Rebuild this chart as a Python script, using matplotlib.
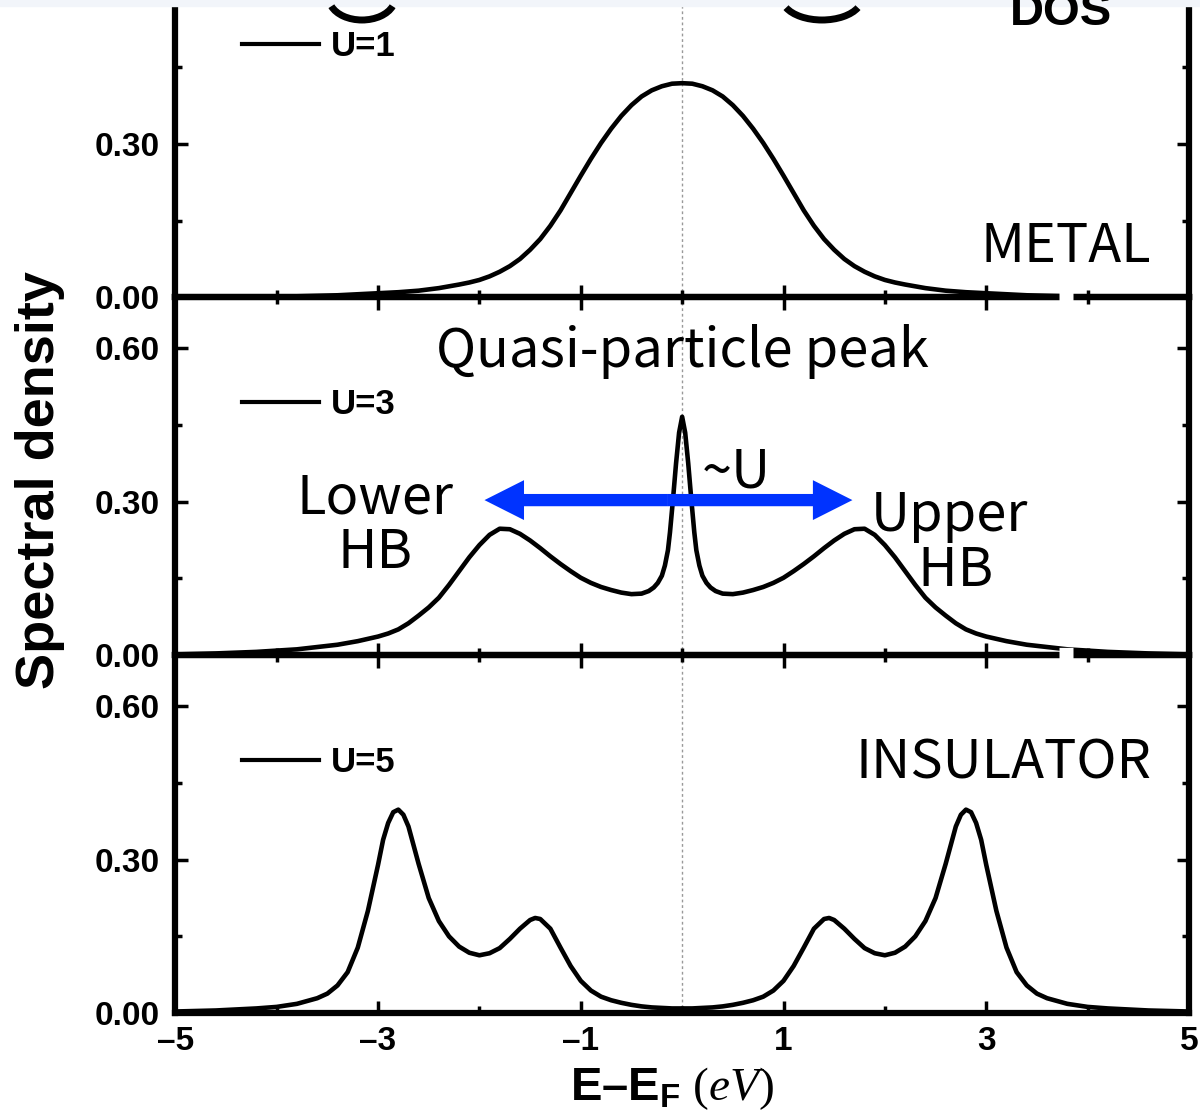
import matplotlib
matplotlib.use("Agg")
import matplotlib.pyplot as plt
import matplotlib.transforms as mtransforms
from matplotlib.lines import Line2D
from matplotlib.patches import Rectangle, Arc

plt.rcParams['font.family'] = ['Liberation Sans', 'DejaVu Sans']
plt.rcParams['font.weight'] = 'bold'
plt.rcParams['mathtext.fontset'] = 'custom'
plt.rcParams['mathtext.bf'] = 'Liberation Sans:bold'
plt.rcParams['mathtext.it'] = 'Liberation Serif:style=italic:weight=normal'
plt.rcParams['mathtext.rm'] = 'Liberation Serif:weight=normal'
plt.rcParams['axes.unicode_minus'] = False

# ---- data ----
x_u1 = [-5.0, -4.6, -4.2, -3.8, -3.4, -3.0, -2.8, -2.6, -2.4, -2.2, -2.1, -2.0, -1.9,
        -1.8, -1.7, -1.6, -1.5, -1.4, -1.3, -1.2, -1.1, -1.0, -0.9, -0.8, -0.7, -0.6,
        -0.5, -0.4, -0.3, -0.2, -0.1, 0.0,
        0.1, 0.2, 0.3, 0.4, 0.5, 0.6, 0.7, 0.8, 0.9, 1.0, 1.1, 1.2, 1.3, 1.4, 1.5, 1.6,
        1.7, 1.8, 1.9, 2.0, 2.1, 2.2, 2.4, 2.6, 2.8, 3.0, 3.4, 3.8, 4.2, 4.6, 5.0]
dos_u1 = [0.000, 0.000, 0.001, 0.002, 0.004, 0.008, 0.010, 0.013, 0.018, 0.025, 0.029,
          0.034, 0.041, 0.050, 0.061, 0.075, 0.093, 0.114, 0.140, 0.170, 0.204, 0.238,
          0.271, 0.302, 0.330, 0.355, 0.376, 0.393, 0.405, 0.413, 0.418, 0.419,
          0.418, 0.413, 0.405, 0.393, 0.376, 0.355, 0.330, 0.302, 0.271, 0.238, 0.204,
          0.170, 0.140, 0.114, 0.093, 0.075, 0.061, 0.050, 0.041, 0.034, 0.029, 0.025,
          0.018, 0.013, 0.010, 0.008, 0.004, 0.002, 0.001, 0.000, 0.000]

x_u3 = [-5.0, -4.6, -4.2, -3.8, -3.4, -3.2, -3.0, -2.9, -2.8, -2.7, -2.6, -2.5, -2.4,
        -2.3, -2.2, -2.1, -2.0, -1.9, -1.8, -1.7, -1.6, -1.5, -1.4, -1.3, -1.2, -1.1,
        -1.0, -0.9, -0.8, -0.7, -0.6, -0.5, -0.4, -0.33, -0.28, -0.24, -0.2, -0.17,
        -0.14, -0.12, -0.09, -0.06, -0.03, 0.0,
        0.03, 0.06, 0.09, 0.12, 0.14, 0.17, 0.2, 0.24, 0.28, 0.33, 0.4, 0.5, 0.6, 0.7,
        0.8, 0.9, 1.0, 1.1, 1.2, 1.3, 1.4, 1.5, 1.6, 1.7, 1.8, 1.9, 2.0, 2.1, 2.2, 2.3,
        2.4, 2.5, 2.6, 2.7, 2.8, 2.9, 3.0, 3.2, 3.4, 3.8, 4.2, 4.6, 5.0]
dos_u3 = [0.001, 0.003, 0.006, 0.011, 0.020, 0.027, 0.036, 0.042, 0.050, 0.062, 0.077,
          0.093, 0.112, 0.137, 0.164, 0.191, 0.215, 0.235, 0.247, 0.246, 0.237, 0.224,
          0.209, 0.193, 0.178, 0.164, 0.151, 0.141, 0.133, 0.127, 0.122, 0.119, 0.120,
          0.125, 0.132, 0.141, 0.155, 0.175, 0.205, 0.240, 0.305, 0.375, 0.435, 0.466,
          0.435, 0.375, 0.305, 0.240, 0.205, 0.175, 0.155, 0.141, 0.132, 0.125, 0.120,
          0.119, 0.122, 0.127, 0.133, 0.141, 0.151, 0.164, 0.178, 0.193, 0.209, 0.224,
          0.237, 0.246, 0.247, 0.235, 0.215, 0.191, 0.164, 0.137, 0.112, 0.093, 0.077,
          0.062, 0.050, 0.042, 0.036, 0.027, 0.020, 0.011, 0.006, 0.003, 0.001]

x_u5 = [-5.0, -4.8, -4.6, -4.4, -4.2, -4.0, -3.8, -3.6, -3.5, -3.4, -3.3, -3.2, -3.1,
        -3.0, -2.95, -2.9, -2.85, -2.8, -2.75, -2.7, -2.6, -2.5, -2.4, -2.3, -2.2, -2.1,
        -2.0, -1.9, -1.8, -1.7, -1.6, -1.5, -1.45, -1.4, -1.3, -1.2, -1.1, -1.0, -0.9,
        -0.8, -0.7, -0.6, -0.5, -0.4, -0.3, -0.2, -0.1, 0.0,
        0.1, 0.2, 0.3, 0.4, 0.5, 0.6, 0.7, 0.8, 0.9, 1.0, 1.1, 1.2, 1.3, 1.4, 1.45, 1.5,
        1.6, 1.7, 1.8, 1.9, 2.0, 2.1, 2.2, 2.3, 2.4, 2.5, 2.6, 2.7, 2.75, 2.8, 2.85, 2.9,
        2.95, 3.0, 3.1, 3.2, 3.3, 3.4, 3.5, 3.6, 3.8, 4.0, 4.2, 4.4, 4.6, 4.8, 5.0]
dos_u5 = [0.003, 0.004, 0.005, 0.007, 0.009, 0.012, 0.018, 0.029, 0.038, 0.054, 0.080,
          0.128, 0.200, 0.290, 0.339, 0.372, 0.393, 0.398, 0.388, 0.365, 0.292, 0.225,
          0.180, 0.150, 0.130, 0.118, 0.113, 0.117, 0.127, 0.145, 0.165, 0.182, 0.186,
          0.184, 0.165, 0.128, 0.092, 0.063, 0.044, 0.032, 0.025, 0.020, 0.016, 0.013,
          0.011, 0.010, 0.009, 0.009,
          0.009, 0.010, 0.011, 0.013, 0.016, 0.020, 0.025, 0.032, 0.044, 0.063, 0.092,
          0.128, 0.165, 0.184, 0.186, 0.182, 0.165, 0.145, 0.127, 0.117, 0.113, 0.118,
          0.130, 0.150, 0.180, 0.225, 0.292, 0.365, 0.388, 0.398, 0.393, 0.372, 0.339,
          0.290, 0.200, 0.128, 0.080, 0.054, 0.038, 0.029, 0.018, 0.012, 0.009, 0.007,
          0.005, 0.004, 0.003]

labels = ["U=1", "U=3", "U=5"]
xtick_major = [-5, -3, -1, 1, 3, 5]
xtick_labels = ["\u20135", "\u20133", "\u20131", "1", "3", "5"]
xtick_minor = [-4, -2, 0, 2, 4]
ytick_major = [0.0, 0.30, 0.60]
ytick_minor = [0.15, 0.45]

# ---- figure ----
fig = plt.figure(figsize=(12, 11.19), dpi=100)
left, width, height = 0.1461, 0.8447, 0.3197
ax_bot = fig.add_axes([left, 0.0947, width, height])
ax_mid = fig.add_axes([left, 0.4147, width, height])
ax_top = fig.add_axes([left, 0.7343, width, height])

panels = [(ax_top, x_u1, dos_u1, labels[0]),
          (ax_mid, x_u3, dos_u3, labels[1]),
          (ax_bot, x_u5, dos_u5, labels[2])]

for ax, xs, ys, lab in panels:
    ax.axvline(0, color='#999999', lw=1.0, ls=(0, (2, 2)), zorder=1)
    ax.plot(xs, ys, color='black', lw=3.3, label=lab, zorder=3, solid_joinstyle='round')
    ax.set_xlim(-5, 5)
    ax.set_ylim(0, 0.70)
    ax.set_xticks(xtick_major)
    ax.set_xticks(xtick_minor, minor=True)
    ax.set_yticks(ytick_major)
    ax.set_yticks(ytick_minor, minor=True)
    ax.set_yticklabels(["%.2f" % v for v in ytick_major])
    ax.tick_params(which='both', direction='in', top=True, right=True, width=2.5,
                   labelsize=24)
    ax.tick_params(which='major', length=9)
    ax.tick_params(which='minor', length=5)
    ax.tick_params(axis='y', pad=11)
    for sp in ax.spines.values():
        sp.set_linewidth(4.5)
    ax.patch.set_alpha(0)
    leg = ax.legend(loc='center left', bbox_to_anchor=(0.066, 0.70), frameon=False,
                    fontsize=25, handlelength=2.2, handletextpad=0.35, borderpad=0,
                    borderaxespad=0)
    leg.get_lines()[0].set_linewidth(3.0)

ax_top.tick_params(labelbottom=False)
ax_mid.tick_params(labelbottom=False)
ax_bot.set_xticklabels(xtick_labels)
ax_bot.tick_params(axis='x', pad=9)

# axis labels
ax_mid.set_ylabel("Spectral density", fontsize=39, fontweight='bold')
ax_mid.yaxis.set_label_coords(-0.1335, 0.49)
ax_mid.yaxis.label.set_va('center')
ax_bot.set_xlabel(r"$\mathbf{E}$" + "\u2013" + r"$\mathbf{E_F}\ \mathrm{(}\mathit{eV}\mathrm{)}$",
                  fontsize=34, fontweight='bold')
ax_bot.xaxis.set_label_coords(0.49, -0.21)
ax_bot.xaxis.label.set_va('center')

# annotations
ann = dict(family=['Noto Sans CJK JP', 'DejaVu Sans'], fontweight='normal', fontsize=39)
ax_top.text(4.63, 0.10, "METAL", ha='right', va='center', **ann)
ax_mid.text(0.0, 0.593, "Quasi-particle peak", ha='center', va='center', **ann)
ax_mid.text(-3.03, 0.254, "Lower\nHB", ha='center', va='center', multialignment='center',
            linespacing=1.0, **ann)
ax_mid.text(2.64, 0.219, "Upper\n HB", ha='center', va='center', multialignment='center',
            linespacing=1.0, **ann)
ax_mid.text(0.53, 0.358, "~U", ha='center', va='center', **ann)
ax_bot.text(4.63, 0.489, "INSULATOR", ha='right', va='center', **ann)

# blue double arrow (~U)
blue = '#0033ff'
mid_x, arrow_y = -0.14, 0.303
for end_x in (-1.95, 1.68):
    ax_mid.arrow(mid_x, arrow_y, end_x - mid_x, 0, width=0.024, head_width=0.078,
                 head_length=0.39, length_includes_head=True, color=blue, lw=0,
                 zorder=4)

# small breaks in the x axis lines near x=3.8
for ax in (ax_top, ax_mid):
    tr = mtransforms.blended_transform_factory(ax.transData, ax.transAxes)
    fig.add_artist(Line2D([3.72, 3.86], [0, 0], transform=tr, color='white', lw=11,
                          solid_capstyle='butt', zorder=10))

# remnants of the panel above (cropped)
fig.add_artist(Rectangle((0, 1 - 6 / 1119), 1, 6 / 1119, transform=fig.transFigure,
                         color='#f2f5fa', zorder=20))
fig.text(0.884, 1 - 25 / 1119, "DOS", ha='center', va='baseline', fontsize=34,
         fontweight='bold', zorder=21)
for cx, w in ((362, 66), (822, 80)):
    fig.add_artist(Arc((cx, 1119 + 2), w, 44, theta1=195, theta2=345, transform=None,
                       color='black', lw=5, zorder=21))

fig.savefig("out.png", dpi=100)
